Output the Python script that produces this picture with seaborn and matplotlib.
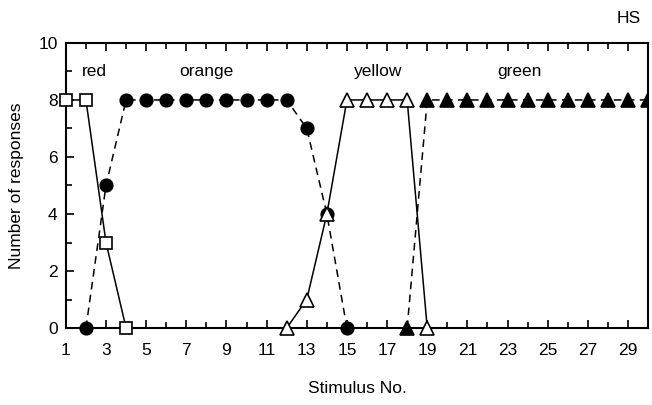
import matplotlib
matplotlib.use("Agg")
import matplotlib.pyplot as plt
import matplotlib.patches as mpatches
import seaborn as sns
from matplotlib.ticker import MultipleLocator

sns.set_theme(style="white")
plt.rcParams['font.family'] = ['Liberation Sans', 'DejaVu Sans']
plt.rcParams['text.color'] = 'black'
plt.rcParams['axes.labelcolor'] = 'black'
plt.rcParams['xtick.color'] = 'black'
plt.rcParams['ytick.color'] = 'black'

red_x = [1, 2, 3, 4]
red_y = [8, 8, 3, 0]
orange_x = [2, 3, 4, 5, 6, 7, 8, 9, 10, 11, 12, 13, 14, 15]
orange_y = [0, 5, 8, 8, 8, 8, 8, 8, 8, 8, 8, 7, 4, 0]
yellow_x = [12, 13, 14, 15, 16, 17, 18, 19]
yellow_y = [0, 1, 4, 8, 8, 8, 8, 0]
green_x = [18, 19, 20, 21, 22, 23, 24, 25, 26, 27, 28, 29, 30]
green_y = [0, 8, 8, 8, 8, 8, 8, 8, 8, 8, 8, 8, 8]

labels = ["red", "orange", "yellow", "green"]
label_x = [2.4, 8.0, 16.55, 23.6]
label_y = 9.0

fig = plt.figure(figsize=(6.52, 4.05), dpi=100)
ax = fig.add_axes([0.101, 0.19, 0.893, 0.704])

common = dict(color="black", lw=1.1, markeredgecolor="black", markeredgewidth=1.2)
sns.lineplot(x=orange_x, y=orange_y, ax=ax, marker="o", markerfacecolor="black", ms=9,
             linestyle=(0, (5, 3.5)), clip_on=False, zorder=3, **common)
sns.lineplot(x=green_x, y=green_y, ax=ax, marker="^", markerfacecolor="black", ms=10,
             linestyle=(0, (5, 3.5)), clip_on=False, zorder=3, **common)
green_line = ax.lines[-1]
clip_rect = mpatches.Rectangle((-0.1, -0.2), 1.1, 1.4, transform=ax.transAxes,
                               facecolor="none", edgecolor="none")
ax.add_patch(clip_rect)
green_line.set_clip_on(True)
green_line.set_clip_path(clip_rect)
sns.lineplot(x=red_x, y=red_y, ax=ax, marker="s", markerfacecolor="white", ms=8.5,
             linestyle="-", clip_on=False, zorder=4, **common)
sns.lineplot(x=yellow_x, y=yellow_y, ax=ax, marker="^", markerfacecolor="white", ms=10.5,
             linestyle="-", clip_on=False, zorder=4, **common)

ax.set_xlim(1, 30)
ax.set_ylim(0, 10)
ax.set_xticks(list(range(1, 30, 2)))
ax.xaxis.set_minor_locator(MultipleLocator(1))
ax.yaxis.set_major_locator(MultipleLocator(2))
ax.yaxis.set_minor_locator(MultipleLocator(1))
ax.tick_params(which="both", direction="in", top=True, right=False, bottom=True, left=True,
               labelsize=12.5, color="black", width=1.2)
ax.tick_params(axis="x", which="both", pad=11)
ax.tick_params(axis="y", which="both", pad=6)
ax.tick_params(which="major", length=6)
ax.tick_params(which="minor", length=4)
for s in ax.spines.values():
    s.set_color("black")
    s.set_linewidth(1.5)

for t, x in zip(labels, label_x):
    ax.text(x, label_y, t, ha="center", va="center", fontsize=12.5, color="black")

ax.set_xlabel("Stimulus No.", fontsize=12.5, labelpad=16)
ax.set_ylabel("Number of responses", fontsize=12.5, labelpad=10)
fig.text(0.965, 0.955, "HS", ha="center", va="center", fontsize=12.5, color="black")

fig.savefig("out.png", dpi=100)
